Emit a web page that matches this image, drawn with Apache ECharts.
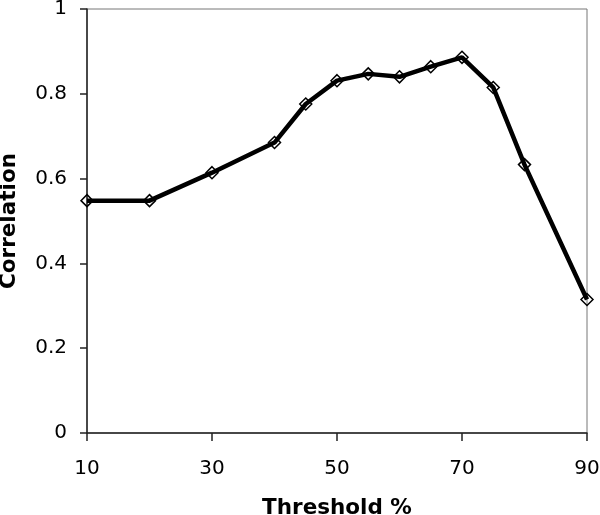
<!DOCTYPE html>
<html>
<head>
<meta charset="utf-8">
<script src="https://cdn.jsdelivr.net/npm/echarts@6/dist/echarts.min.js"></script>
<style>
html,body{margin:0;padding:0;background:#fff;}
#c{width:600px;height:515px;}
</style>
</head>
<body>
<div id="c"></div>
<script>
const thresholds = [10, 20, 30, 40, 45, 50, 55, 60, 65, 70, 75, 80, 90];
const correlation = [0.548, 0.548, 0.614, 0.685, 0.776, 0.831, 0.847, 0.840, 0.864, 0.886, 0.815, 0.633, 0.315];
const xTicks = [10, 30, 50, 70, 90];
const yTicks = [0, 0.2, 0.4, 0.6, 0.8, 1];

const font = '"DejaVu Sans", Verdana, sans-serif';
const chart = echarts.init(document.getElementById('c'));
chart.setOption({
  animation: false,
  backgroundColor: '#fff',
  grid: {left: 87, right: 13, top: 9, bottom: 82, containLabel: false, outerBoundsMode: 'none',
         show: true, borderColor: '#777', borderWidth: 1, backgroundColor: 'transparent'},
  xAxis: {
    type: 'value', min: xTicks[0], max: xTicks[xTicks.length-1], interval: xTicks[1]-xTicks[0],
    name: 'Threshold %', nameLocation: 'middle', nameGap: 64,
    nameTextStyle: {fontFamily: font, fontWeight: 'bold', fontSize: 21.5, color: '#000'},
    axisLine: {show: true, lineStyle: {color: '#222', width: 1.5}},
    axisTick: {show: true, length: 8, lineStyle: {color: '#222', width: 1.5}},
    axisLabel: {fontFamily: font, fontSize: 20, color: '#000', margin: 26},
    splitLine: {show: false}
  },
  yAxis: {
    type: 'value', min: yTicks[0], max: yTicks[yTicks.length-1], interval: yTicks[1]-yTicks[0],
    name: 'Correlation', nameLocation: 'middle', nameGap: 67, nameRotate: 90,
    nameTextStyle: {fontFamily: font, fontWeight: 'bold', fontSize: 21.5, color: '#000'},
    axisLine: {show: true, lineStyle: {color: '#222', width: 1.5}},
    axisTick: {show: true, length: 7, lineStyle: {color: '#222', width: 1.5}},
    axisLabel: {fontFamily: font, fontSize: 20, color: '#000', margin: 20},
    splitLine: {show: false}
  },
  series: [{
    type: 'line',
    data: thresholds.map((t, i) => [t, correlation[i]]),
    lineStyle: {color: '#000', width: 4.5},
    symbol: 'diamond', symbolSize: 12,
    itemStyle: {color: 'rgba(255,255,255,0)', borderColor: '#000', borderWidth: 1.5},
    showSymbol: true
  }]
});
</script>
</body>
</html>
